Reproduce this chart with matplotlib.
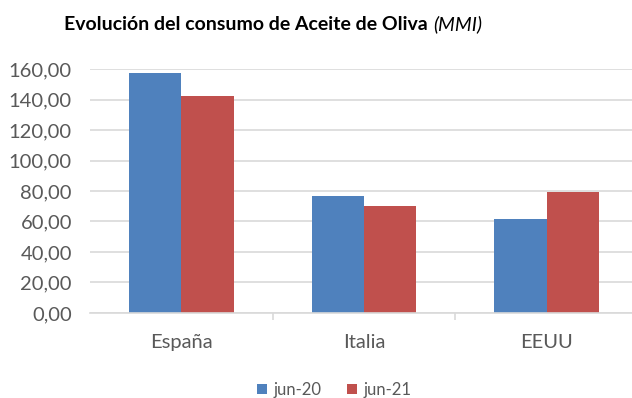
import matplotlib
matplotlib.use("Agg")
import matplotlib.pyplot as plt
import numpy as np
from matplotlib.patches import Patch

plt.rcParams['font.family'] = ['Lato', 'DejaVu Sans']

categories = ["España", "Italia", "EEUU"]
series_names = ["jun-20", "jun-21"]
jun20 = [157.2, 76.8, 61.9]
jun21 = [142.0, 70.1, 79.4]
yticks = [0, 20, 40, 60, 80, 100, 120, 140, 160]
colors = ["#4F81BD", "#C0504D"]

fig = plt.figure(figsize=(6.32, 3.98), dpi=100)
ax = fig.add_axes([0.1424, 0.2136, 0.8576, 0.613])

x = np.arange(len(categories))
w = 0.287
ax.bar(x - w/2, jun20, width=w, color=colors[0], zorder=3)
ax.bar(x + w/2, jun21, width=w, color=colors[1], zorder=3)

ax.set_xlim(-0.5, 2.467)
ax.set_ylim(0, 160)
ax.set_yticks(yticks)
ax.set_yticklabels([f"{v:.2f}".replace(".", ",") for v in yticks], color="#595959", fontsize=14.5)
ax.yaxis.grid(True, color="#d9d9d9", linewidth=1.2, zorder=0)
ax.tick_params(axis="y", length=0, pad=13)

ax.set_xticks(x)
ax.set_xticklabels(categories, color="#595959", fontsize=14.5)
ax.set_xticks([0.5, 1.5], minor=True)
ax.tick_params(axis="x", which="major", length=0, pad=15)
ax.tick_params(axis="x", which="minor", length=5, color="#d9d9d9", width=1.2)

for s in ["top", "right", "left"]:
    ax.spines[s].set_visible(False)
ax.spines["bottom"].set_color("#d9d9d9")
ax.spines["bottom"].set_linewidth(1.2)
ax.spines["bottom"].set_zorder(4)
ax.set_clip_on(False)

# Title
t1 = fig.text(0.0, 0.0, "Evolución del consumo de Aceite de Oliva ", fontsize=14, fontweight="bold", color="black")
t2 = fig.text(0.0, 0.0, "(MMI)", fontsize=14, fontstyle="italic", color="black")
fig.canvas.draw()
r = fig.canvas.get_renderer()
b1 = t1.get_window_extent(r)
b2 = t2.get_window_extent(r)
total = b1.width + b2.width
cx = 273
x0 = cx - total/2
ytitle = 398 - 30
t1.set_position((x0/632, ytitle/398))
t2.set_position(((x0 + b1.width)/632, ytitle/398))

handles = [Patch(facecolor=c, edgecolor="none") for c in colors]
fig.legend(handles, series_names, loc="center", bbox_to_anchor=(334/632, 1 - 390/398),
           ncol=2, frameon=False, fontsize=12, handlelength=0.6, handleheight=0.6,
           handletextpad=0.4, columnspacing=1.5, labelcolor="#595959")

fig.savefig("out.png", dpi=100)
